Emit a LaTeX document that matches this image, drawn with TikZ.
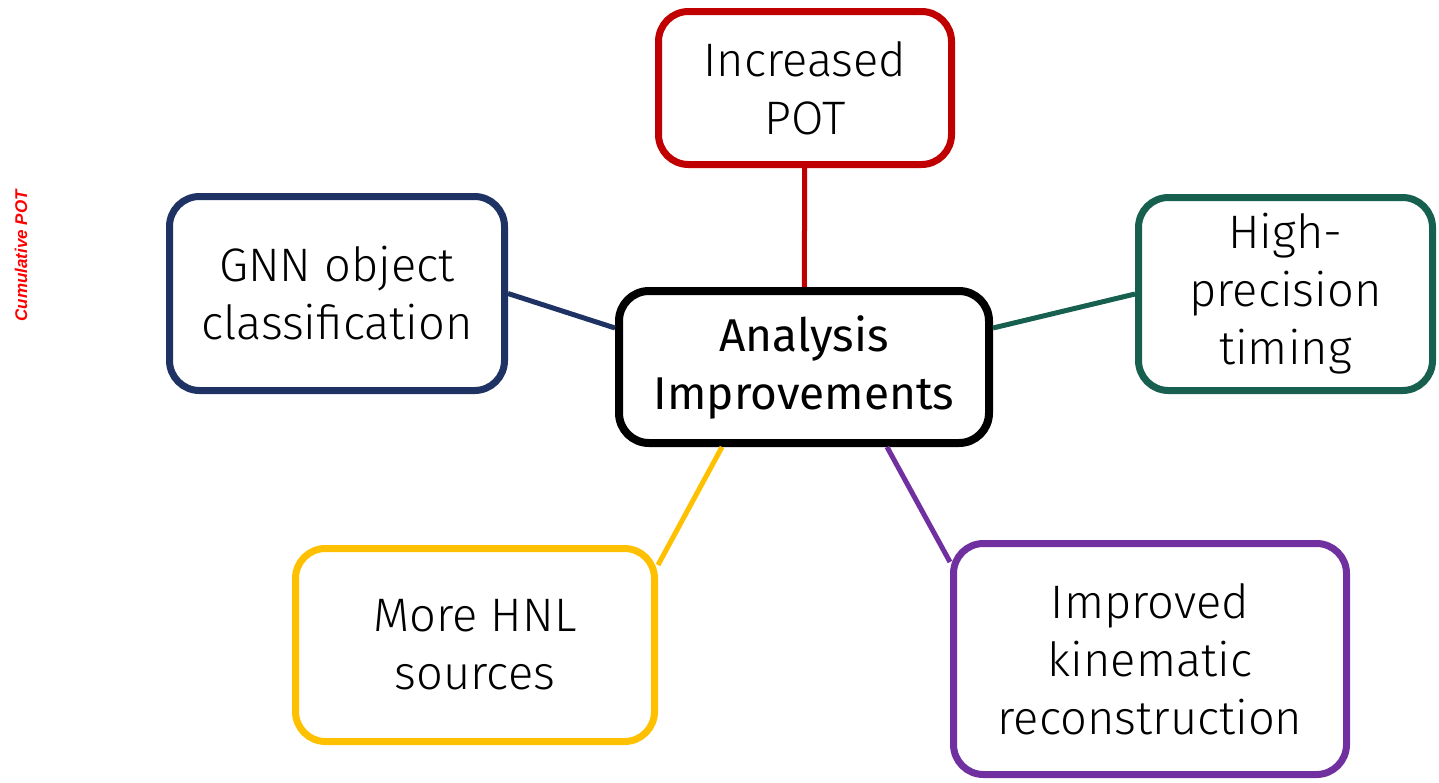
\documentclass[tikz,border=0pt]{standalone}
\usepackage{fontspec}
\setmainfont{Fira Sans Light}
\newfontfamily\centrefont{Fira Sans}
\newfontfamily\axisfont{Liberation Sans}
\usetikzlibrary{positioning}
\definecolor{potred}{HTML}{C00000}
\definecolor{gnnblue}{HTML}{1F3264}
\definecolor{timegreen}{HTML}{17604F}
\definecolor{hnlyellow}{HTML}{FFC000}
\definecolor{kinpurple}{HTML}{7030A0}

\begin{document}
\begin{tikzpicture}[x=1pt, y=-1pt]
	\tikzstyle{box} = [draw, line width=7pt, rounded corners=30pt, align=center, inner sep=0pt, font=\fontsize{47}{58}\selectfont]
	\tikzstyle{link} = [line width=5pt]
	\useasboundingbox (0,0) rectangle (1439,782);
	\node[box, draw=black, line width=8pt, minimum width=370pt, minimum height=152pt, font=\centrefont\fontsize{46}{58}\selectfont] (ana) at (804,367) {Analysis\\Improvements};
	\node[box, draw=potred, minimum width=293pt, minimum height=153pt] (pot) at (805,88) {Increased\\POT};
	\node[box, draw=gnnblue, minimum width=335pt, minimum height=194pt] (gnn) at (337,293.5) {GNN object\\classification};
	\node[box, draw=timegreen, minimum width=294pt, minimum height=193pt] (time) at (1285.5,294) {High-\\precision\\timing};
	\node[box, draw=hnlyellow, minimum width=359pt, minimum height=193pt] (hnl) at (475,645) {More HNL\\sources};
	\node[box, draw=kinpurple, minimum width=393pt, minimum height=231pt] (kin) at (1150,659) {Improved\\kinematic\\reconstruction};
	\draw[link, potred] (pot) -- (ana);
	\draw[link, gnnblue] (gnn.east) -- ([yshift=39pt]ana.west);
	\draw[link, timegreen] ([yshift=39pt]ana.east) -- (time.west);
	\draw[link, hnlyellow] ([yshift=80pt]hnl.east) -- ([xshift=-82pt]ana.south);
	\draw[link, kinpurple] ([xshift=83pt]ana.south) -- ([yshift=97pt]kin.west);
	\node[rotate=90, text=red, font=\axisfont\bfseries\itshape\fontsize{17}{20}\selectfont, inner sep=0pt] (cum) at (21,256) {Cumulative POT};
\end{tikzpicture}
\end{document}
